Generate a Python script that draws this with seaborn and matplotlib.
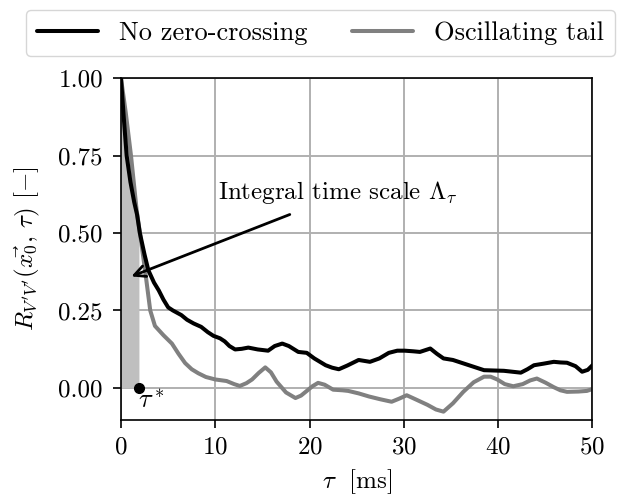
import numpy as np
import pandas as pd
import matplotlib
matplotlib.use("Agg")
import matplotlib.pyplot as plt
import seaborn as sns

# ---- data ----
black_tau = [0, 0.3, 0.6, 1.0, 1.4, 1.7, 2.0, 2.5, 2.9, 3.5, 4.0, 4.5, 5.0, 5.5, 6.4, 7.0,
             7.7, 8.5, 9.2, 9.8, 10.5, 11.0, 11.5, 12.1, 12.8, 13.5, 14.5, 15.6, 16.3, 17.1,
             17.8, 18.8, 19.7, 20.5, 21.7, 22.4, 23.1, 24.0, 25.2, 26.4, 27.4, 28.4, 29.3,
             30.1, 31.0, 31.7, 32.8, 33.5, 34.2, 35.2, 36.3, 37.4, 38.5, 39.5, 40.6, 41.5,
             42.4, 43.1, 43.8, 44.8, 45.9, 46.6, 47.3, 48.2, 48.9, 49.5, 50.0]
black_r = [1.0, 0.87, 0.75, 0.665, 0.60, 0.56, 0.50, 0.43, 0.38, 0.34, 0.315, 0.285, 0.26,
           0.25, 0.235, 0.22, 0.208, 0.197, 0.18, 0.168, 0.16, 0.15, 0.135, 0.124, 0.126,
           0.13, 0.124, 0.12, 0.135, 0.143, 0.135, 0.116, 0.113, 0.095, 0.073, 0.065, 0.06,
           0.072, 0.09, 0.084, 0.095, 0.113, 0.12, 0.12, 0.118, 0.116, 0.127, 0.11, 0.095,
           0.09, 0.079, 0.068, 0.057, 0.056, 0.055, 0.052, 0.049, 0.06, 0.073, 0.078, 0.084,
           0.082, 0.081, 0.07, 0.052, 0.058, 0.073]

gray_tau = [0, 0.5, 1.06, 1.66, 2.1, 2.55, 3.1, 3.6, 4.5, 5.4, 6.1, 6.8, 7.5, 8.2, 9.0, 10.0,
            11.2, 12.0, 12.6, 13.3, 13.9, 14.6, 15.3, 15.9, 16.5, 17.5, 18.5, 19.1, 19.7,
            20.3, 20.9, 21.6, 22.5, 23.5, 24.1, 25.2, 26.3, 27.5, 28.7, 29.5, 30.3, 31.3,
            32.5, 33.4, 34.2, 35.2, 36.3, 37.4, 38.5, 39.2, 39.9, 40.7, 41.6, 42.6, 43.4,
            44.1, 45.0, 45.9, 46.6, 47.3, 48.5, 49.4, 50.0]
gray_r = [1.0, 0.89, 0.75, 0.574, 0.48, 0.38, 0.25, 0.20, 0.17, 0.143, 0.11, 0.08, 0.06,
          0.047, 0.035, 0.027, 0.022, 0.012, 0.006, 0.015, 0.027, 0.048, 0.066, 0.05, 0.02,
          -0.015, -0.033, -0.025, -0.01, 0.005, 0.016, 0.01, -0.006, -0.008, -0.01, -0.018,
          -0.028, -0.037, -0.045, -0.035, -0.024, -0.038, -0.055, -0.07, -0.077, -0.05,
          -0.013, 0.018, 0.036, 0.036, 0.027, 0.012, 0.005, 0.012, 0.024, 0.03, 0.017, 0.002,
          -0.008, -0.013, -0.012, -0.01, -0.004]

tau_star = 1.9
series_labels = ["No zero-crossing", "Oscillating tail"]
x_ticks = [0, 10, 20, 30, 40, 50]
y_ticks = [0.00, 0.25, 0.50, 0.75, 1.00]

FS = 18

# ---- style ----
sns.set_theme(style="ticks", rc={
    "axes.edgecolor": "black",
    "axes.linewidth": 1.2,
    "grid.color": "#b0b0b0",
    "grid.linewidth": 1.4,
    "xtick.major.size": 6,
    "ytick.major.size": 6,
    "xtick.major.width": 1.2,
    "ytick.major.width": 1.2,
    "xtick.major.pad": 6,
    "ytick.major.pad": 7,
    "xtick.color": "black",
    "ytick.color": "black",
    "text.color": "black",
    "axes.labelcolor": "black",
    "xtick.labelsize": FS,
    "ytick.labelsize": FS,
    "axes.labelsize": FS,
    "legend.fontsize": FS,
    "font.size": FS,
})
plt.rcParams["font.family"] = ["cmr10", "DejaVu Serif"]
plt.rcParams["mathtext.fontset"] = "cm"
plt.rcParams["axes.formatter.use_mathtext"] = True

fig = plt.figure(figsize=(6.18, 4.96), dpi=100)
ax = fig.add_axes([0.1958, 0.1532, 0.9587 - 0.1958, 0.8421 - 0.1532])
ax.grid(True)
ax.set_axisbelow(True)

df_b = pd.DataFrame({"tau": black_tau, "R": black_r})
df_g = pd.DataFrame({"tau": gray_tau, "R": gray_r})

# fill under curve up to tau*
xf = np.linspace(0, tau_star, 60)
yf = np.interp(xf, gray_tau, gray_r)
ax.fill_between(xf, 0, yf, color="#bfbfbf", lw=0, zorder=1)

sns.lineplot(data=df_b, x="tau", y="R", color="black", lw=2.9, ax=ax,
             label=series_labels[0], zorder=3, legend=False)
sns.lineplot(data=df_g, x="tau", y="R", color="#808080", lw=2.9, ax=ax,
             label=series_labels[1], zorder=2, legend=False)

ax.plot([tau_star], [0], "o", color="black", ms=7, zorder=4)
ax.text(1.85, -0.004, r"$\tau^*$", ha="left", va="top", fontsize=FS + 1)

ax.annotate("", xy=(1.1, 0.36), xytext=(17.9, 0.56),
            arrowprops=dict(arrowstyle="->", lw=2, color="black", mutation_scale=20,
                            shrinkA=0, shrinkB=0))
ax.text(10.3, 0.632, r"Integral time scale $\Lambda_\tau$", ha="left", va="center",
        fontsize=FS)

ax.set_xlim(0, 50)
ax.set_ylim(-0.104, 1.0)
ax.set_xticks(x_ticks)
ax.set_yticks(y_ticks)
ax.set_yticklabels([f"{v:.2f}" for v in y_ticks])
ax.set_xlabel(r"$\tau\ $ [ms]", labelpad=6)
ax.set_ylabel(r"$R_{V'V'}(\vec{x_0},\,\tau)$ $[-]$", labelpad=12)
for s in ax.spines.values():
    s.set_visible(True)

handles, labels = ax.get_legend_handles_labels()
fig.legend(handles, labels, loc="upper center", bbox_to_anchor=(0.5186, 0.98), ncol=2,
           frameon=True, fancybox=True, edgecolor="#cccccc", handlelength=2.3,
           handletextpad=0.8, columnspacing=1.7, fontsize=FS + 1, borderpad=0.42,
           borderaxespad=0)

fig.savefig("out.png", dpi=100)
